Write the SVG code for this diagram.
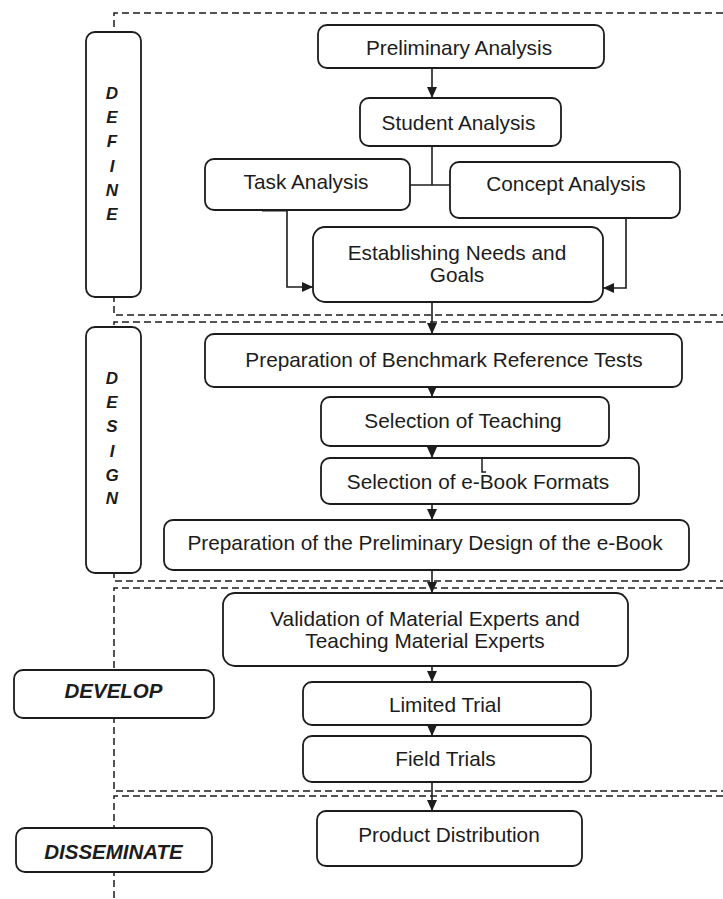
<svg xmlns="http://www.w3.org/2000/svg" width="723" height="899" viewBox="0 0 723 899">
<style>
  .box { fill: #ffffff; stroke: #1c1c1c; stroke-width: 1.8; }
  .t { font-family: "Liberation Sans", Arial, sans-serif; font-size: 20.8px; fill: #1c1c1c; text-anchor: middle; }
  .ph { font-family: "Liberation Sans", Arial, sans-serif; font-size: 20.5px; font-weight: bold; font-style: italic; fill: #1c1c1c; text-anchor: middle; }
  .pv { font-family: "Liberation Sans", Arial, sans-serif; font-size: 17px; font-weight: bold; font-style: italic; fill: #1c1c1c; text-anchor: middle; }
  .dash { fill: none; stroke: #1c1c1c; stroke-width: 1.5; stroke-dasharray: 7 4; }
  .conn { fill: none; stroke: #1c1c1c; stroke-width: 1.6; }
</style>
<defs>
  <marker id="arr" markerUnits="userSpaceOnUse" markerWidth="12" markerHeight="10" refX="11" refY="5" orient="auto">
    <path d="M0,0 L11,5 L0,10 z" fill="#1c1c1c"/>
  </marker>
</defs>

<g id="sections">
  <path class="dash" d="M723,13 H114 V315 H723"/>
  <path class="dash" d="M723,322 H114 V581 H723"/>
  <path class="dash" d="M723,588 H114 V791 H723"/>
  <path class="dash" d="M723,796 H114 V899"/>
</g>

<g id="connectors">
  <line class="conn" x1="432" y1="68" x2="432" y2="98" marker-end="url(#arr)"/>
  <line class="conn" x1="432" y1="146" x2="432" y2="185"/>
  <line class="conn" x1="410" y1="185" x2="450" y2="185"/>
  <path class="conn" d="M262,210 H287 V287 H313" marker-end="url(#arr)"/>
  <line x1="262" y1="210" x2="287" y2="210" stroke="#1c1c1c" stroke-width="3"/>
  <path class="conn" d="M626,218 V288 H603" marker-end="url(#arr)"/>
  <line class="conn" x1="432" y1="302" x2="432" y2="334" marker-end="url(#arr)"/>
  <line class="conn" x1="432" y1="387" x2="432" y2="397" marker-end="url(#arr)"/>
  <line class="conn" x1="432" y1="446" x2="432" y2="458" marker-end="url(#arr)"/>
  <line class="conn" x1="432" y1="504" x2="432" y2="520" marker-end="url(#arr)"/>
  <line class="conn" x1="432" y1="570" x2="432" y2="593" marker-end="url(#arr)"/>
  <line class="conn" x1="432" y1="666" x2="432" y2="682" marker-end="url(#arr)"/>
  <line class="conn" x1="432" y1="725" x2="432" y2="736" marker-end="url(#arr)"/>
  <line class="conn" x1="432" y1="782" x2="432" y2="811" marker-end="url(#arr)"/>
</g>

<g id="define">
  <rect class="box" x="86" y="32" width="55" height="265" rx="9"/>
  <text class="pv" x="112" y="99">D</text>
  <text class="pv" x="112" y="123">E</text>
  <text class="pv" x="112" y="147">F</text>
  <text class="pv" x="112" y="172">I</text>
  <text class="pv" x="112" y="196">N</text>
  <text class="pv" x="112" y="220">E</text>
</g>
<g id="design">
  <rect class="box" x="86" y="327" width="55" height="246" rx="9"/>
  <text class="pv" x="112" y="384">D</text>
  <text class="pv" x="112" y="408">E</text>
  <text class="pv" x="112" y="432">S</text>
  <text class="pv" x="112" y="457">I</text>
  <text class="pv" x="112" y="481">G</text>
  <text class="pv" x="112" y="504">N</text>
</g>
<g id="develop">
  <rect class="box" x="14" y="670" width="200" height="48" rx="9"/>
  <text class="ph" x="113.5" y="698">DEVELOP</text>
</g>
<g id="disseminate">
  <rect class="box" x="16" y="828" width="196" height="44" rx="9"/>
  <text class="ph" x="113.5" y="859">DISSEMINATE</text>
</g>

<g id="preliminary-analysis">
  <rect class="box" x="318" y="25" width="286" height="43" rx="9"/>
  <text class="t" x="459" y="55">Preliminary Analysis</text>
</g>
<g id="student-analysis">
  <rect class="box" x="360" y="98" width="201" height="48" rx="9"/>
  <text class="t" x="458.5" y="130">Student Analysis</text>
</g>
<g id="task-analysis">
  <rect class="box" x="205" y="159" width="205" height="51" rx="9"/>
  <text class="t" x="306" y="189">Task Analysis</text>
</g>
<g id="concept-analysis">
  <rect class="box" x="450" y="162" width="230" height="56" rx="9"/>
  <text class="t" x="566" y="191">Concept Analysis</text>
</g>
<g id="establishing-needs">
  <rect class="box" x="313" y="227" width="290" height="75" rx="12"/>
  <text class="t" x="457" y="260">Establishing Needs and</text>
  <text class="t" x="457" y="282">Goals</text>
</g>
<g id="benchmark-tests">
  <rect class="box" x="205" y="334" width="477" height="53" rx="9"/>
  <text class="t" x="444" y="367">Preparation of Benchmark Reference Tests</text>
</g>
<g id="selection-teaching">
  <rect class="box" x="321" y="397" width="288" height="49" rx="9"/>
  <text class="t" x="463" y="428">Selection of Teaching</text>
</g>
<g id="selection-formats">
  <rect class="box" x="321" y="458" width="318" height="46" rx="9"/>
  <path d="M482,459 V472 H486" fill="none" stroke="#1c1c1c" stroke-width="1.5"/>
  <text class="t" x="478" y="489">Selection of e-Book Formats</text>
</g>
<g id="preliminary-design">
  <rect class="box" x="164" y="520" width="525" height="50" rx="9"/>
  <text class="t" x="425" y="550">Preparation of the Preliminary Design of the e-Book</text>
</g>
<g id="validation">
  <rect class="box" x="223" y="593" width="405" height="73" rx="12"/>
  <text class="t" x="425" y="626">Validation of Material Experts and</text>
  <text class="t" x="425" y="648">Teaching Material Experts</text>
</g>
<g id="limited-trial">
  <rect class="box" x="303" y="682" width="288" height="43" rx="9"/>
  <text class="t" x="445" y="712">Limited Trial</text>
</g>
<g id="field-trials">
  <rect class="box" x="303" y="736" width="288" height="46" rx="9"/>
  <text class="t" x="445.5" y="766">Field Trials</text>
</g>
<g id="product-distribution">
  <rect class="box" x="317" y="811" width="265" height="55" rx="9"/>
  <text class="t" x="449" y="842">Product Distribution</text>
</g>
</svg>
